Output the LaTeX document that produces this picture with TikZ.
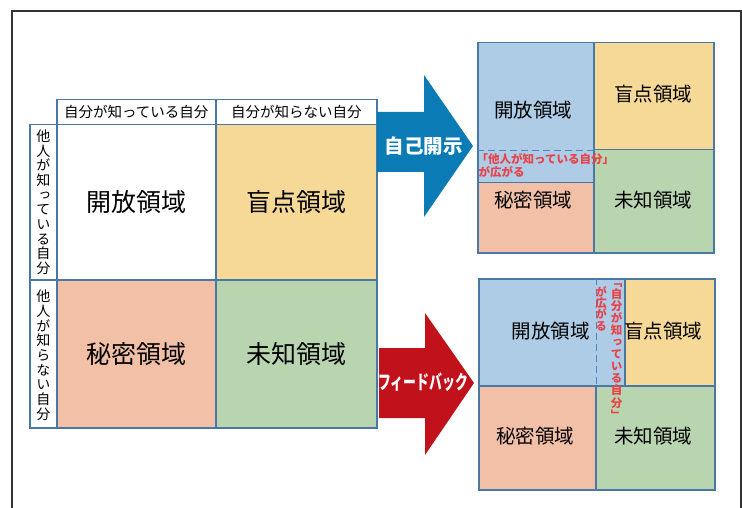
\documentclass[tikz,border=0pt]{standalone}
\usepackage{fontspec}
\setmainfont{Noto Sans CJK JP}
\newfontfamily\jpv{Noto Sans CJK JP}[RawFeature=+vert]
\definecolor{yellowc}{HTML}{F6D897}
\definecolor{pinkc}{HTML}{F2C0A7}
\definecolor{greenc}{HTML}{B9D5B0}
\definecolor{bluec}{HTML}{AECCE5}
\definecolor{bordc}{HTML}{4A78A4}
\definecolor{dashc}{HTML}{4F86BD}
\definecolor{arrblue}{HTML}{0B7BB6}
\definecolor{arrred}{HTML}{C1121C}
\definecolor{redtxt}{HTML}{E8434B}
\definecolor{framec}{HTML}{333333}
\begin{document}
\begin{tikzpicture}[x=1pt,y=-1pt,
  cell/.style={draw=bordc, line width=1.5pt, inner sep=0pt, anchor=north west},
  bigtxt/.style={font=\fontsize{25}{25}\selectfont},
  midtxt/.style={font=\fontsize{19.5}{19.5}\selectfont, inner sep=0pt},
  hdtxt/.style={font=\fontsize{14.5}{14.5}\selectfont},
  vtxt/.style={font=\jpv\fontsize{14}{14.7}\selectfont, align=center, inner sep=0pt},
  redv/.style={font=\jpv\bfseries\fontsize{11.5}{11.6}\selectfont, align=center, inner sep=0pt, text=redtxt},
  redh/.style={font=\bfseries\fontsize{11.5}{12}\selectfont, inner sep=0pt, text=redtxt, anchor=west},
  dashln/.style={draw=dashc, line width=1.5pt, dash pattern=on 7pt off 4pt}
]
\useasboundingbox (0,0) rectangle (742,508);
\fill[white] (0,0) rectangle (742,508);
\draw[framec, line width=2pt] (12,510) -- (12,11) -- (741,11) -- (741,510);

% ---- main grid ----
\node[cell, fill=white, minimum width=159pt, minimum height=25pt, hdtxt] (h1) at (56,99) {自分が知っている自分};
\node[cell, fill=white, minimum width=161pt, minimum height=25pt, hdtxt] (h2) at (215,99) {自分が知らない自分};
\node[cell, fill=white, minimum width=27pt, minimum height=155pt] (v1) at (29,124) {};
\node[cell, fill=white, minimum width=27pt, minimum height=148pt] (v2) at (29,279) {};
\node[vtxt] (v1t) at (v1.center) {他\\人\\が\\知\\っ\\て\\い\\る\\自\\分};
\node[vtxt] (v2t) at ([yshift=-1.5pt]v2.center) {他\\人\\が\\知\\ら\\な\\い\\自\\分};
\node[cell, fill=white, minimum width=159pt, minimum height=155pt, bigtxt] (c11) at (56,124) {開放領域};
\node[cell, fill=yellowc, minimum width=161pt, minimum height=155pt, bigtxt] (c12) at (215,124) {盲点領域};
\node[cell, fill=pinkc, minimum width=159pt, minimum height=148pt, bigtxt] (c21) at (56,279) {秘密領域};
\node[cell, fill=greenc, minimum width=161pt, minimum height=148pt, bigtxt] (c22) at (215,279) {未知領域};

% ---- arrows ----
\fill[arrblue] (377,112) -- (424,112) -- (424,75) -- (473,146) -- (424,217) -- (424,172) -- (377,172) -- cycle;
\node[font=\bfseries\fontsize{19.5}{19.5}\selectfont, text=white, inner sep=0pt] (a1t) at (423.5,146.5) {自己開示};
\fill[arrred] (379,348) -- (425,348) -- (425,313) -- (474,383) -- (425,455) -- (425,418) -- (379,418) -- cycle;
\node[text=white, inner sep=0pt] (a2t) at (423,382) {\scalebox{0.66}[1]{\bfseries\fontsize{19.5}{19.5}\selectfont フィードバック}};

% ---- top right grid ----
\node[cell, fill=bluec, minimum width=116pt, minimum height=140pt] (tro) at (477,42) {};
\node[cell, fill=yellowc, minimum width=120pt, minimum height=107pt] (trb) at (593,42) {};
\node[cell, fill=pinkc, minimum width=116pt, minimum height=70pt] (trs) at (477,182) {};
\node[cell, fill=greenc, minimum width=120pt, minimum height=103pt] (tru) at (593,149) {};
\draw[dashln] (tro.west |- trb.south) -- (tro.east |- trb.south);
\node[midtxt] (trot) at (533,110) {開放領域};
\node[midtxt] (trbt) at (653,94) {盲点領域};
\node[midtxt] (trst) at (533,200) {秘密領域};
\node[midtxt] (trut) at (653,200.5) {未知領域};
\node[redh] (trr1) at (476.5,159) {「他人が知っている自分」};
\node[redh] (trr2) at (478.5,172) {が広がる};

% ---- bottom right grid ----
\node[cell, fill=bluec, minimum width=146pt, minimum height=107pt] (bro) at (478,278) {};
\node[cell, fill=yellowc, minimum width=90pt, minimum height=107pt] (brb) at (624,278) {};
\node[cell, fill=pinkc, minimum width=117pt, minimum height=104pt] (brs) at (478,385) {};
\node[cell, fill=greenc, minimum width=119pt, minimum height=104pt] (bru) at (595,385) {};
\draw[dashln] (brs.east |- bro.north) -- (brs.north east);
\node[midtxt] (brot) at (550.5,331.5) {開放領域};
\node[midtxt] (brbt) at (663,331.5) {盲点領域};
\node[midtxt] (brst) at (535,436.5) {秘密領域};
\node[midtxt] (brut) at (653,436.5) {未知領域};
\node[redv, anchor=north, font=\jpv\bfseries\fontsize{11.5}{11.3}\selectfont] (brr1) at (601,286) {が\\広\\が\\る};
\node[redv, anchor=north, font=\jpv\bfseries\fontsize{11.5}{12.1}\selectfont] (brr2) at (616.5,283) {「\\自\\分\\が\\知\\っ\\て\\い\\る\\自\\分\\」};
\end{tikzpicture}
\end{document}
